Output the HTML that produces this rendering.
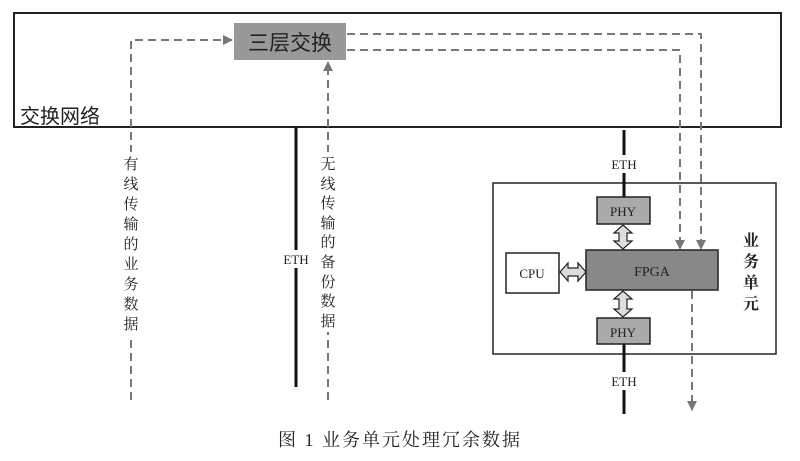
<!DOCTYPE html>
<html><head><meta charset="utf-8"><style>
html,body{margin:0;padding:0;background:#fff;}
svg{display:block;}
text{font-family:"Liberation Serif","Noto Serif CJK SC",serif;fill:#222;}
.cj{font-family:"Liberation Sans","Noto Sans CJK SC",sans-serif;}
</style></head><body>
<svg width="800" height="461" viewBox="0 0 800 461" xmlns="http://www.w3.org/2000/svg">
<defs>
<marker id="ah" markerWidth="10" markerHeight="10" refX="9" refY="5" orient="auto" markerUnits="userSpaceOnUse">
<path d="M0,0 L10,5 L0,10 z" fill="#777"/></marker>
</defs>
<rect x="14" y="13" width="767" height="114" fill="none" stroke="#222" stroke-width="2"/>
<text x="20" y="123" class="cj" font-size="20">交换网络</text>
<rect x="234" y="23" width="112" height="37" fill="#999"/>
<text x="290" y="50" text-anchor="middle" class="cj" font-size="21">三层交换</text>
<g stroke="#777" stroke-width="2" fill="none" stroke-dasharray="8,5">
<path d="M131,400 L131,40 L232,40" marker-end="url(#ah)"/>
<path d="M328,400 L328,62" marker-end="url(#ah)"/>
<path d="M347,34 L701,34 L701,249" marker-end="url(#ah)"/>
<path d="M347,50 L680,50 L680,249" marker-end="url(#ah)"/>
<path d="M692,291 L692,410" marker-end="url(#ah)"/>
</g>
<rect x="118" y="152" width="26" height="183" fill="#fff"/>
<rect x="315" y="152" width="26" height="180" fill="#fff"/>
<g class="cj" font-size="15" text-anchor="middle">
<text x="131" y="169">有</text><text x="131" y="189">线</text><text x="131" y="209">传</text><text x="131" y="229">输</text><text x="131" y="249">的</text><text x="131" y="269">业</text><text x="131" y="289">务</text><text x="131" y="309">数</text><text x="131" y="329">据</text>
</g>
<g class="cj" font-size="15" text-anchor="middle">
<text x="328" y="169">无</text><text x="328" y="189">线</text><text x="328" y="208">传</text><text x="328" y="228">输</text><text x="328" y="247">的</text><text x="328" y="267">备</text><text x="328" y="287">份</text><text x="328" y="306">数</text><text x="328" y="326">据</text>
</g>
<line x1="296" y1="127" x2="296" y2="387" stroke="#111" stroke-width="3"/>
<rect x="282" y="250" width="28" height="18" fill="#fff"/>
<text x="296" y="264" font-size="13" text-anchor="middle">ETH</text>
<rect x="493" y="183" width="283" height="171" fill="none" stroke="#222" stroke-width="1.5"/>
<line x1="624" y1="130" x2="624" y2="198" stroke="#111" stroke-width="3"/>
<line x1="624" y1="343" x2="624" y2="414" stroke="#111" stroke-width="3"/>
<rect x="610" y="155" width="28" height="18" fill="#fff"/>
<text x="624" y="169" font-size="13" text-anchor="middle">ETH</text>
<rect x="610" y="372" width="28" height="18" fill="#fff"/>
<text x="624" y="386" font-size="13" text-anchor="middle">ETH</text>
<rect x="597" y="197" width="53" height="27" fill="#aaa" stroke="#222" stroke-width="1.5"/>
<text x="623" y="216" font-size="13" text-anchor="middle">PHY</text>
<rect x="597" y="318" width="53" height="26" fill="#aaa" stroke="#222" stroke-width="1.5"/>
<text x="623" y="337" font-size="13" text-anchor="middle">PHY</text>
<rect x="586" y="250" width="132" height="40" fill="#888" stroke="#222" stroke-width="1.5"/>
<text x="652" y="276" font-size="14" text-anchor="middle">FPGA</text>
<rect x="506" y="253" width="53" height="40" fill="#fff" stroke="#222" stroke-width="1.5"/>
<text x="532" y="278" font-size="13" text-anchor="middle">CPU</text>
<g fill="#ddd" stroke="#222" stroke-width="1.2">
<path d="M623,225 L614,233 L619,233 L619,241 L614,241 L623,249 L632,241 L627,241 L627,233 L632,233 Z"/>
<path d="M623,291 L614,299 L619,299 L619,309 L614,309 L623,317 L632,309 L627,309 L627,299 L632,299 Z"/>
<path d="M560,272 L568,263 L568,268 L578,268 L578,263 L586,272 L578,281 L578,276 L568,276 L568,281 Z"/>
</g>
<g class="cj" font-size="16" font-weight="bold" text-anchor="middle">
<text x="751" y="246">业</text><text x="751" y="267">务</text><text x="751" y="288">单</text><text x="751" y="309">元</text>
</g>
<text x="400" y="446" font-size="18" text-anchor="middle" letter-spacing="2">图 1  业务单元处理冗余数据</text>
</svg>
</body></html>
